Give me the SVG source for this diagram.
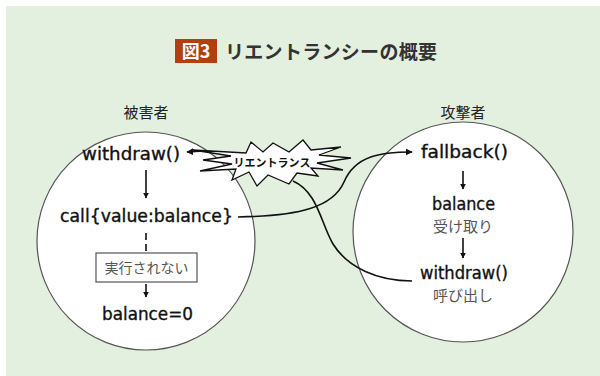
<svg xmlns="http://www.w3.org/2000/svg" width="600" height="376" viewBox="0 0 600 376">
<defs>
<style>
.code{font-family:"DejaVu Sans","Noto Sans",sans-serif;font-size:17px;fill:#111;stroke:#111;stroke-width:0.35;text-anchor:middle;lengthAdjust:spacingAndGlyphs}
.jp{font-family:"Noto Sans CJK JP",sans-serif;text-anchor:middle}
.sub{font-size:15px;fill:#555}
.lbl{font-size:15px;fill:#222}
.circ{fill:#fff;stroke:#555;stroke-width:1.2}
.ln{fill:none;stroke:#111;stroke-width:1.6}
</style>
<marker id="ah" viewBox="0 0 10 10" refX="9" refY="5" markerWidth="6" markerHeight="6" markerUnits="userSpaceOnUse" orient="auto">
<path d="M0,0 L10,5 L0,10 z" fill="#111"/>
</marker>
<marker id="ah2" viewBox="0 0 10 10" refX="9" refY="5" markerWidth="7" markerHeight="7" markerUnits="userSpaceOnUse" orient="auto">
<path d="M0,0 L10,5 L0,10 z" fill="#111"/>
</marker>
</defs>
<rect x="0" y="0" width="600" height="376" fill="#fff"/>
<rect x="6" y="6" width="594" height="370" fill="#e3efdf"/>

<g id="title">
<rect x="175" y="39" width="42" height="24" fill="#b23f0f"/>
<text x="196" y="58" font-family="Noto Sans CJK JP,sans-serif" font-weight="bold" font-size="18" fill="#fff" text-anchor="middle">図3</text>
<text x="225" y="59" font-family="Noto Sans CJK JP,sans-serif" font-weight="bold" font-size="19" fill="#333" textLength="212">リエントランシーの概要</text>
</g>

<g id="victim">
<circle class="circ" cx="146" cy="241" r="109"/>
<text class="jp lbl" x="146" y="118">被害者</text>
</g>
<g id="attacker">
<circle class="circ" cx="463" cy="232" r="110"/>
<text class="jp lbl" x="463" y="118">攻撃者</text>
</g>

<g id="v-withdraw"><text class="code" x="131" y="160" textLength="98" lengthAdjust="spacingAndGlyphs">withdraw()</text></g>
<g id="v-call"><text class="code" x="146.5" y="222" textLength="173" lengthAdjust="spacingAndGlyphs">call{value:balance}</text></g>
<g id="v-box">
<rect x="96" y="253" width="101" height="29" fill="#fff" stroke="#555" stroke-width="1.2"/>
<text class="jp" x="146.5" y="273" font-size="14" fill="#555">実行されない</text>
</g>
<g id="v-balance"><text class="code" x="147.5" y="320" textLength="91" lengthAdjust="spacingAndGlyphs">balance=0</text></g>

<g id="a-fallback"><text class="code" x="464.5" y="158" textLength="87" lengthAdjust="spacingAndGlyphs">fallback()</text></g>
<g id="a-balance">
<text class="code" x="463.5" y="210" textLength="63" lengthAdjust="spacingAndGlyphs">balance</text>
<text class="jp sub" x="463" y="232">受け取り</text>
</g>
<g id="a-withdraw">
<text class="code" x="464" y="279" textLength="88" lengthAdjust="spacingAndGlyphs">withdraw()</text>
<text class="jp sub" x="463" y="301">呼び出し</text>
</g>

<g id="reentrance">
<path d="M193,150 L231,156 L203,160 L232,164 L200,171 L236,169 L232,180 L249,172 L257,186 L268,175 L289,184 L297,173 L318,176 L311,168 L343,170 L317,163 L351,158 L319,155 L341,147 L311,150 L303,140 L289,152 L273,143 L263,152 L251,142 L246,153 Z" fill="#fff" stroke="#111" stroke-width="1.3" stroke-linejoin="miter"/>
<text x="272" y="167" font-family="Noto Sans CJK JP,sans-serif" font-weight="bold" font-size="11" fill="#111" text-anchor="middle">リエントランス</text>
</g>

<g id="connectors">
<line class="ln" x1="146" y1="170" x2="146" y2="198" marker-end="url(#ah)"/>
<line class="ln" x1="146" y1="233" x2="146" y2="253" stroke-dasharray="7,4"/>
<line class="ln" x1="146" y1="284" x2="146" y2="297" marker-end="url(#ah)"/>
<line class="ln" x1="463" y1="171" x2="463" y2="189" marker-end="url(#ah)"/>
<line class="ln" x1="463" y1="238" x2="463" y2="258" marker-end="url(#ah)"/>
<line class="ln" x1="204" y1="151" x2="187" y2="152" marker-end="url(#ah2)"/>
<path class="ln" d="M238,217 C300,216 333,207 344,182 C355,156 380,152 412,152" marker-end="url(#ah2)"/>
<path class="ln" d="M293,181 C318,192 321,224 333,244 C348,268 378,281 412,281"/>
</g>
</svg>
